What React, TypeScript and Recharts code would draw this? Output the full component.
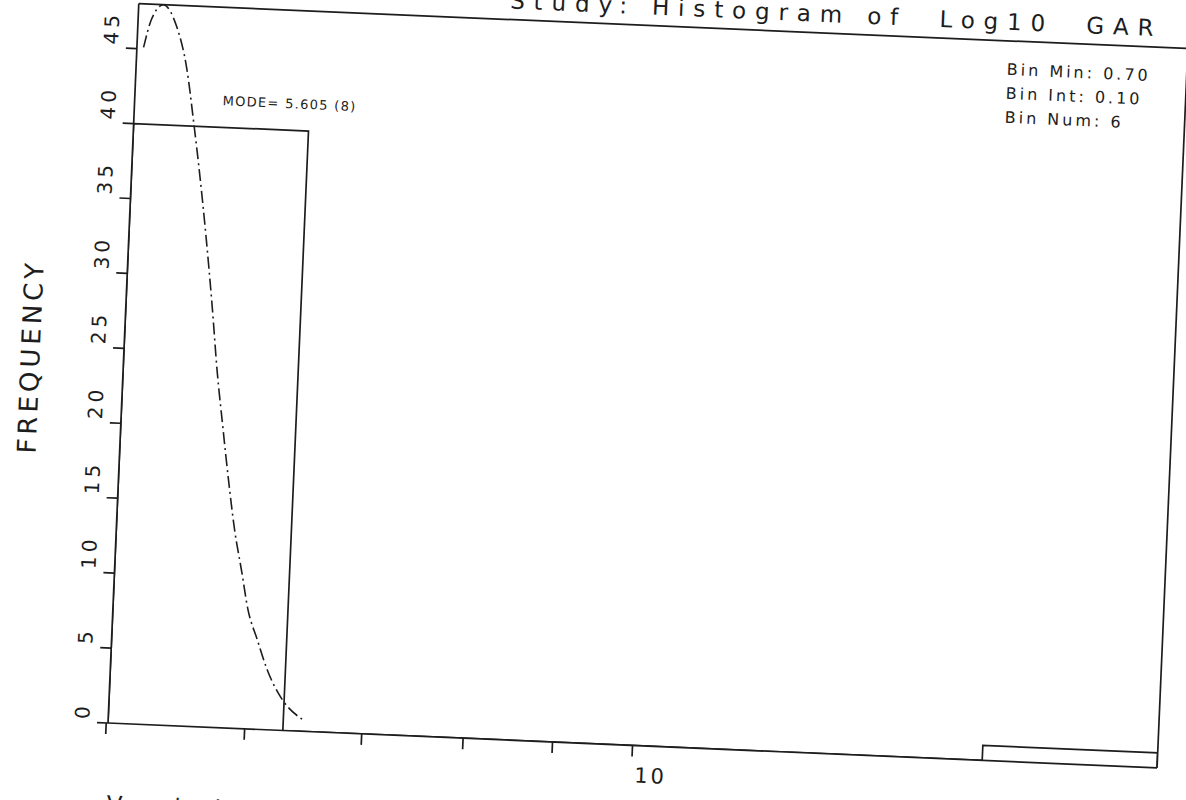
import { ComposedChart, Line, XAxis, YAxis, ReferenceLine } from "recharts";

// histogram bins (log10 GAR): Bin Min 0.70, Bin Int 0.10, Bin Num 6
const binEdgesLog = [0.7, 0.8, 0.9, 1.0, 1.1, 1.2, 1.3];
const binCounts = [40, 0, 0, 0, 0, 1];

// fitted curve (GAR, frequency)
const curveGar = [
  5.056, 5.101, 5.177, 5.274, 5.356, 5.424, 5.474, 5.547, 5.615, 5.674,
  5.728, 5.793, 5.856, 5.926, 5.986, 6.069, 6.16, 6.294, 6.468,
];
const curveFreq = [
  45.1, 47.0, 48.0, 46.6, 43.9, 40.2, 37.3, 32.7, 28.0, 23.6, 20.3, 16.5,
  13.2, 10.4, 7.95, 6.0, 4.0, 2.05, 0.8,
];

const yTicks = [0, 5, 10, 15, 20, 25, 30, 35, 40, 45];
const xTicks = [5, 6, 7, 8, 9, 10];
const xLabelled = [10];
const yMax = 48;

const titleText = "Study: Histogram of  Log10  GAR";
const modeText = "MODE= 5.605 (8)";
const binInfo = ["Bin Min: 0.70", "Bin Int: 0.10", "Bin Num: 6"];
const yTitle = "FREQUENCY";
const xTitle = "Variable";

const INK = "#1d1d1d";
const FONT = "'DejaVu Sans', sans-serif";

const xMin = Math.pow(10, binEdgesLog[0]);
const xMax = Math.pow(10, binEdgesLog[binEdgesLog.length - 1]);

// outline of the histogram as a step line
const histData = [
  { x: xMin, y: 0 },
  ...binCounts.map((c, i) => ({ x: Math.pow(10, binEdgesLog[i]), y: c })),
  { x: xMax, y: binCounts[binCounts.length - 1] },
  { x: xMax, y: 0 },
];

const curveData = curveGar.map((g, i) => ({ x: g, y: curveFreq[i] }));

function YTick({ x, y, payload }: any) {
  const ty = y - 3;
  return (
    <text
      x={x}
      y={ty}
      transform={`rotate(-90, ${x}, ${ty})`}
      textAnchor="start"
      fontSize={20}
      letterSpacing={4}
      fill={INK}
      fontFamily={FONT}
    >
      {payload.value}
    </text>
  );
}

function XTick({ x, y, payload }: any) {
  if (!xLabelled.includes(payload.value)) return <g />;
  return (
    <text
      x={x + 3}
      y={y + 24}
      textAnchor="start"
      fontSize={21}
      letterSpacing={3}
      fill={INK}
      fontFamily={FONT}
    >
      {payload.value}
    </text>
  );
}

export default function App() {
  const axisStyle = { stroke: INK, strokeWidth: 1.7 };
  return (
    <div
      style={{
        position: "absolute",
        left: 0,
        top: 0,
        width: 1186,
        height: 800,
        overflow: "hidden",
        background: "#fff",
      }}
    >
      {/* the scan is turned a little clockwise */}
      <div
        style={{
          position: "absolute",
          left: 0,
          top: 0,
          width: 1186,
          height: 800,
          transform: "rotate(2.45deg)",
          transformOrigin: "108px 723px",
        }}
      >
        <ComposedChart
          width={1186}
          height={800}
          margin={{ top: 3, right: 0, bottom: 0, left: 0 }}
        >
          <XAxis
            dataKey="x"
            type="number"
            scale="log"
            domain={[xMin, xMax]}
            allowDataOverflow
            ticks={xTicks}
            interval={0}
            height={77}
            tickSize={11}
            tickMargin={2}
            axisLine={axisStyle}
            tickLine={axisStyle}
            tick={<XTick />}
          />
          <YAxis
            yAxisId="left"
            type="number"
            domain={[0, yMax]}
            allowDataOverflow
            ticks={yTicks}
            interval={0}
            width={108}
            tickSize={11}
            tickMargin={8}
            axisLine={axisStyle}
            tickLine={axisStyle}
            tick={<YTick />}
          />
          <YAxis
            yAxisId="right"
            orientation="right"
            type="number"
            domain={[0, yMax]}
            allowDataOverflow
            ticks={yTicks}
            interval={0}
            width={28}
            tickSize={11}
            axisLine={axisStyle}
            tickLine={axisStyle}
            tick={false}
          />
          <ReferenceLine
            yAxisId="left"
            y={yMax}
            stroke={INK}
            strokeWidth={1.7}
          />
          <Line
            yAxisId="left"
            data={histData}
            dataKey="y"
            type="stepAfter"
            stroke={INK}
            strokeWidth={1.7}
            dot={false}
            activeDot={false}
            isAnimationActive={false}
          />
          <Line
            yAxisId="left"
            data={curveData}
            dataKey="y"
            type="monotone"
            stroke={INK}
            strokeWidth={1.6}
            strokeDasharray="12 4 2 4"
            dot={false}
            activeDot={false}
            isAnimationActive={false}
          />
        </ComposedChart>
        <svg
          width={1186}
          height={800}
          style={{
            position: "absolute",
            left: 0,
            top: 0,
            overflow: "visible",
            pointerEvents: "none",
          }}
        >
          <text
            x={479}
            y={-8}
            textLength={644}
            lengthAdjust="spacing"
            fontSize={23}
            fill={INK}
            fontFamily={FONT}
            style={{ whiteSpace: "pre" }}
          >
            {titleText}
          </text>
          <text
            x={196}
            y={101}
            fontSize={13}
            letterSpacing={1.3}
            fill={INK}
            fontFamily={FONT}
          >
            {modeText}
          </text>
          {binInfo.map((t, i) => (
            <text
              key={t}
              x={978}
              y={37 + i * 24}
              fontSize={16}
              letterSpacing={3}
              fill={INK}
              fontFamily={FONT}
            >
              {t}
            </text>
          ))}
          <text
            x={24}
            y={360}
            transform="rotate(-90, 24, 360)"
            textAnchor="middle"
            fontSize={26}
            letterSpacing={4}
            fill={INK}
            fontFamily={FONT}
          >
            {yTitle}
          </text>
          <text
            x={110}
            y={812}
            fontSize={23}
            letterSpacing={10}
            fill={INK}
            fontFamily={FONT}
          >
            {xTitle}
          </text>
        </svg>
      </div>
    </div>
  );
}
